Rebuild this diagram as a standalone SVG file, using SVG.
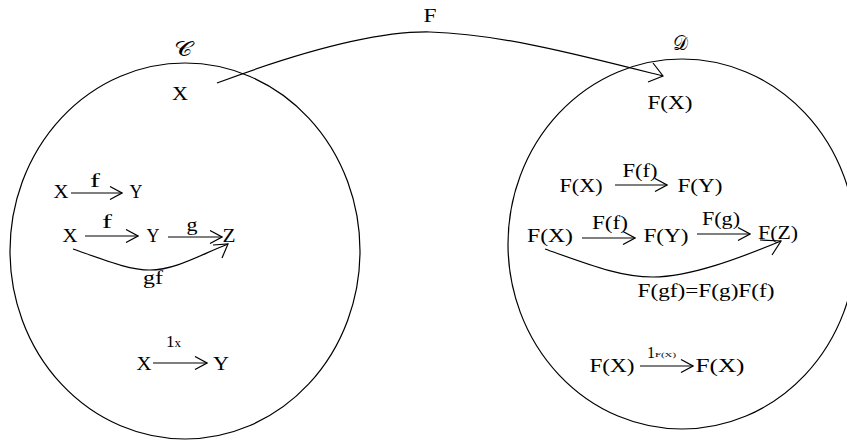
<svg xmlns="http://www.w3.org/2000/svg" width="847" height="443" viewBox="0 0 847 443">
<defs>
<style>
text{font-family:"Liberation Serif","Times New Roman",serif;fill:#000;text-anchor:middle}
.n{font-size:18px}
.l{font-size:18px}
.s{font-size:20px}
.cat{fill:none;stroke:#000;stroke-width:1.2}
.e{fill:none;stroke:#000;stroke-width:1.2}
</style>
<marker id="ah" markerUnits="userSpaceOnUse" viewBox="0 0 14 14" refX="13" refY="7" markerWidth="14" markerHeight="14" orient="auto">
<path d="M1,0.5 L13,7 L1,13.5" fill="none" stroke="#000" stroke-width="1.2"/>
</marker>
</defs>
<rect width="847" height="443" fill="#fff"/>

<g id="catC">
<ellipse class="cat" cx="185" cy="251" rx="175" ry="188"/>
<text class="s" x="183" y="56" textLength="19" lengthAdjust="spacingAndGlyphs">𝒞</text>
</g>
<g id="catD">
<ellipse class="cat" cx="682" cy="244" rx="174" ry="185"/>
<text class="s" x="680" y="50" textLength="15" lengthAdjust="spacingAndGlyphs">𝒟</text>
</g>

<g id="connectors">
<path class="e" d="M217,83 C300,52 375,31 430,32 C500,34 580,55 663,76"/>
<path class="e" d="M653,63 L663,76 L648,82"/>
<line class="e" x1="71" y1="193" x2="122" y2="193" marker-end="url(#ah)"/>
<line class="e" x1="85" y1="236" x2="138" y2="236" marker-end="url(#ah)"/>
<line class="e" x1="168" y1="237" x2="222" y2="237" marker-end="url(#ah)"/>
<path class="e" d="M73,249 C110,262 130,270 150,270 C175,270 200,255 228,244"/>
<path class="e" d="M213,245 L228,244 L222,258"/>
<line class="e" x1="153" y1="363" x2="207" y2="363" marker-end="url(#ah)"/>
<line class="e" x1="615" y1="185" x2="667" y2="185" marker-end="url(#ah)"/>
<line class="e" x1="582" y1="238" x2="635" y2="238" marker-end="url(#ah)"/>
<line class="e" x1="697" y1="234" x2="750" y2="234" marker-end="url(#ah)"/>
<path class="e" d="M545,249 C590,265 620,277 653,277 C690,277 740,258 781,241"/>
<path class="e" d="M760,240 L781,241 L772,255"/>
<line class="e" x1="640" y1="366" x2="693" y2="366" marker-end="url(#ah)"/>
</g>

<g id="label-F"><text class="n" x="430" y="22" textLength="13" lengthAdjust="spacingAndGlyphs">F</text></g>

<g id="C-X"><text class="n" x="180" y="100" font-size="19" textLength="16" lengthAdjust="spacingAndGlyphs">X</text></g>

<g id="C-row1">
<text class="n" x="61" y="198" textLength="15" lengthAdjust="spacingAndGlyphs">X</text>
<text class="l" x="95" y="187" textLength="10" lengthAdjust="spacingAndGlyphs">f</text>
<text class="n" x="136" y="198" textLength="13" lengthAdjust="spacingAndGlyphs">Y</text>
</g>

<g id="C-row2">
<text class="n" x="70" y="242" textLength="15" lengthAdjust="spacingAndGlyphs">X</text>
<text class="l" x="107" y="228" textLength="10" lengthAdjust="spacingAndGlyphs">f</text>
<text class="n" x="153" y="242" textLength="13" lengthAdjust="spacingAndGlyphs">Y</text>
<text class="l" x="192" y="231" textLength="11" lengthAdjust="spacingAndGlyphs">g</text>
<text class="n" x="229" y="242" textLength="13" lengthAdjust="spacingAndGlyphs">Z</text>
<text class="l" x="153" y="284" textLength="20" lengthAdjust="spacingAndGlyphs">gf</text>
</g>

<g id="C-row3">
<text class="n" x="144" y="370" textLength="15" lengthAdjust="spacingAndGlyphs">X</text>
<text x="166" y="347" font-size="16" style="text-anchor:start" textLength="15" lengthAdjust="spacingAndGlyphs">1<tspan font-size="12">x</tspan></text>
<text class="n" x="221" y="370" textLength="16" lengthAdjust="spacingAndGlyphs">Y</text>
</g>

<g id="D-FX"><text class="n" x="670" y="109" textLength="45" lengthAdjust="spacingAndGlyphs">F(X)</text></g>

<g id="D-row1">
<text class="n" x="581" y="192" textLength="43" lengthAdjust="spacingAndGlyphs">F(X)</text>
<text class="l" x="640" y="177" textLength="35" lengthAdjust="spacingAndGlyphs">F(f)</text>
<text class="n" x="700" y="192" textLength="45" lengthAdjust="spacingAndGlyphs">F(Y)</text>
</g>

<g id="D-row2">
<text class="n" x="550" y="242" textLength="46" lengthAdjust="spacingAndGlyphs">F(X)</text>
<text class="l" x="610" y="229" textLength="36" lengthAdjust="spacingAndGlyphs">F(f)</text>
<text class="n" x="666" y="242" textLength="45" lengthAdjust="spacingAndGlyphs">F(Y)</text>
<text class="l" x="721" y="225" textLength="38" lengthAdjust="spacingAndGlyphs">F(g)</text>
<text class="n" x="778" y="239" textLength="40" lengthAdjust="spacingAndGlyphs">F(Z)</text>
<text class="n" x="706" y="297" textLength="137" lengthAdjust="spacingAndGlyphs">F(gf)=F(g)F(f)</text>
</g>

<g id="D-row3">
<text class="n" x="612" y="372" textLength="45" lengthAdjust="spacingAndGlyphs">F(X)</text>
<text x="647" y="358" font-size="16" style="text-anchor:start">1</text>
<text x="655" y="357" font-size="7" style="text-anchor:start" textLength="21" lengthAdjust="spacingAndGlyphs">F(X)</text>
<text class="n" x="720" y="372" textLength="49" lengthAdjust="spacingAndGlyphs">F(X)</text>
</g>
</svg>
